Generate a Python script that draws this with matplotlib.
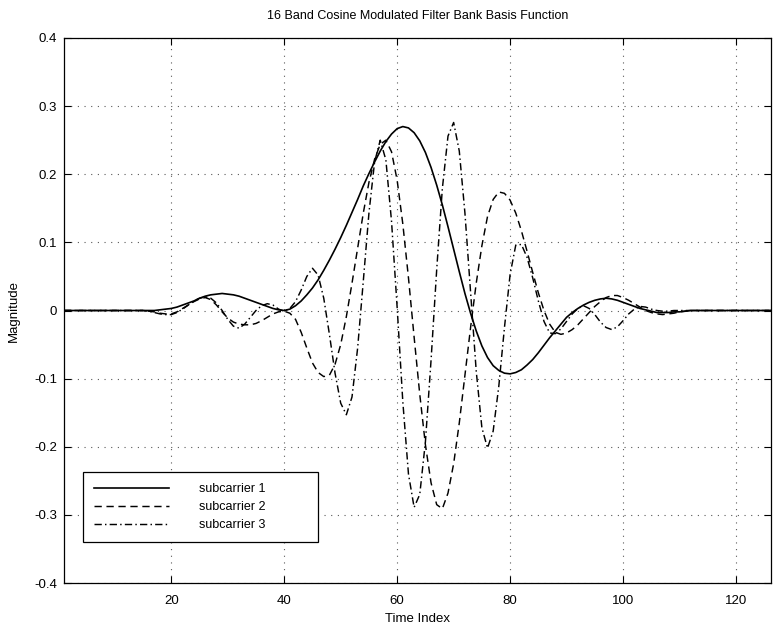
import numpy as np
import matplotlib
matplotlib.use("Agg")
import matplotlib.pyplot as plt

# Time index 1..128 and the three basis functions
time_index = np.arange(1, 129)

subcarrier1 = [0.0] * 16 + [
    0.000, 0.001, 0.002, 0.003, 0.005, 0.008, 0.011, 0.014, 0.018, 0.021,
    0.023, 0.024, 0.025, 0.024, 0.023, 0.021, 0.018, 0.015, 0.012, 0.009,
    0.006, 0.003, 0.001, 0.000, 0.002, 0.007, 0.014, 0.023, 0.033, 0.045,
    0.059, 0.074, 0.090, 0.107, 0.125, 0.144, 0.163, 0.183, 0.201, 0.218,
    0.234, 0.248, 0.259, 0.267, 0.270, 0.268, 0.261, 0.249, 0.232, 0.210,
    0.184, 0.155, 0.123, 0.090, 0.057, 0.025, -0.004, -0.030, -0.052, -0.069,
    -0.081, -0.088, -0.092, -0.093, -0.091, -0.087, -0.080, -0.072, -0.062, -0.051,
    -0.040, -0.030, -0.020, -0.010, -0.003, 0.003, 0.008, 0.012, 0.015, 0.017,
    0.018, 0.017, 0.015, 0.012, 0.009, 0.006, 0.003, 0.001, -0.001, -0.003,
    -0.003, -0.003, -0.002, -0.002, -0.001,
] + [0.0] * 17

subcarrier2 = [0.0] * 15 + [
    -0.001, -0.002, -0.004, -0.005, -0.005, -0.002, 0.003, 0.008, 0.013, 0.017,
    0.019, 0.016, 0.008, -0.002, -0.011, -0.017, -0.020, -0.021, -0.021, -0.019,
    -0.015, -0.010, -0.005, -0.002, -0.001, -0.004, -0.013, -0.032, -0.055, -0.077,
    -0.091, -0.097, -0.095, -0.079, -0.050, -0.009, 0.040, 0.092, 0.143, 0.188,
    0.222, 0.244, 0.250, 0.233, 0.191, 0.127, 0.048, -0.039, -0.123, -0.197,
    -0.253, -0.285, -0.291, -0.268, -0.225, -0.165, -0.095, -0.025, 0.040, 0.095,
    0.138, 0.163, 0.174, 0.172, 0.162, 0.143, 0.117, 0.087, 0.056, 0.026,
    0.000, -0.020, -0.032, -0.035, -0.033, -0.028, -0.021, -0.012, -0.003, 0.006,
    0.013, 0.019, 0.022, 0.022, 0.019, 0.015, 0.010, 0.005, 0.000, -0.003,
    -0.005, -0.006, -0.005, -0.004, -0.002, -0.001,
] + [0.0] * 17

subcarrier3 = [0.0] * 14 + [
    0.000, -0.001, -0.003, -0.005, -0.006, -0.006, -0.003, 0.002, 0.008, 0.014,
    0.018, 0.020, 0.018, 0.011, 0.000, -0.013, -0.023, -0.026, -0.020, -0.010,
    0.000, 0.007, 0.010, 0.008, 0.002, -0.001, 0.003, 0.013, 0.030, 0.050,
    0.062, 0.052, 0.018, -0.035, -0.092, -0.136, -0.153, -0.127, -0.055, 0.043,
    0.143, 0.218, 0.250, 0.221, 0.131, 0.004, -0.134, -0.240, -0.289, -0.270,
    -0.193, -0.073, 0.060, 0.179, 0.256, 0.276, 0.234, 0.143, 0.026, -0.089,
    -0.172, -0.202, -0.177, -0.111, -0.025, 0.053, 0.096, 0.097, 0.078, 0.048,
    0.014, -0.016, -0.033, -0.034, -0.027, -0.016, -0.005, 0.003, 0.007, 0.003,
    -0.006, -0.017, -0.025, -0.028, -0.024, -0.015, -0.005, 0.002, 0.006, 0.005,
    0.002, 0.000, -0.001, -0.001,
] + [0.0] * 20

labels = ["subcarrier 1", "subcarrier 2", "subcarrier 3"]
x_ticks = [20, 40, 60, 80, 100, 120]
y_ticks = [-0.4, -0.3, -0.2, -0.1, 0, 0.1, 0.2, 0.3, 0.4]
y_tick_labels = ["-0.4", "-0.3", "-0.2", "-0.1", "0", "0.1", "0.2", "0.3", "0.4"]

plt.rcParams["font.family"] = ["Liberation Sans", "DejaVu Sans"]
plt.rcParams["axes.unicode_minus"] = False

fig = plt.figure(figsize=(7.74, 6.28), dpi=100)
ax = fig.add_axes([64 / 774, 45 / 628, 707 / 774, 545 / 628])

ax.plot(time_index, subcarrier1, color="black", lw=1.2, label=labels[0])
ax.plot(time_index, subcarrier2, color="black", lw=1.05, linestyle=(0, (5, 3.2)),
        label=labels[1])
ax.plot(time_index, subcarrier3, color="black", lw=1.05,
        linestyle=(0, (5, 2.2, 1, 2.2)), label=labels[2])

ax.set_xlim(1, 126.2)
ax.set_ylim(-0.4, 0.4)
ax.set_xticks(x_ticks)
ax.set_yticks(y_ticks)
ax.set_yticklabels(y_tick_labels)
ax.tick_params(direction="in", length=5, width=0.8, top=True, right=True,
               labelsize=9.5)
ax.tick_params(axis="x", pad=9)
ax.tick_params(axis="y", pad=5)
ax.grid(True, color="0.35", linestyle=(0, (1, 5)), linewidth=0.8)
for spine in ax.spines.values():
    spine.set_linewidth(0.9)

ax.set_title("16 Band Cosine Modulated Filter Bank Basis Function",
             fontsize=9, pad=14)
ax.set_xlabel("Time Index", fontsize=9.5, labelpad=4)
ax.set_ylabel("Magnitude", fontsize=9.5, labelpad=10)

leg = ax.legend(loc="lower left", bbox_to_anchor=(0.027, 0.075, 0.332, 0.13),
                mode="expand", borderaxespad=0,
                fontsize=9, handlelength=6.0, handletextpad=2.4,
                labelspacing=0.5, borderpad=0.85, fancybox=False,
                framealpha=1, edgecolor="black")
leg.get_frame().set_linewidth(0.9)

fig.savefig("out.png", dpi=100)
